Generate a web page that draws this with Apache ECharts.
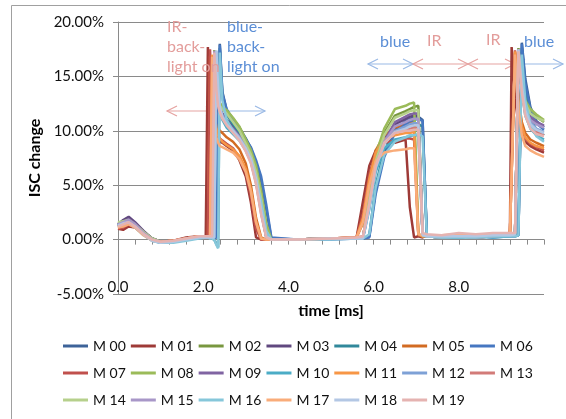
<!DOCTYPE html>
<html><head><meta charset="utf-8">
<script src="https://cdn.jsdelivr.net/npm/echarts@6/dist/echarts.min.js"></script>
<style>html,body{margin:0;padding:0;background:#fff}#c{width:566px;height:419px}</style>
</head><body><div id="c"></div>
<script>
// time axis (ms), shared by all series
const times = [
  0, 0.12, 0.25, 0.4, 0.6, 0.8, 1.0, 1.3, 1.6, 1.9,
  2.06, 2.11, 2.16, 2.21, 2.26, 2.31, 2.35, 2.39, 2.45, 2.55, 2.7, 2.85, 3.0, 3.12, 3.24, 3.36, 3.48, 3.6,
  4.2, 5.0, 5.6,
  5.75, 5.9, 6.05, 6.25, 6.5, 6.75, 6.85, 6.95, 7.05, 7.15, 7.25,
  7.6, 8.0, 8.4, 8.8, 9.2,
  9.24, 9.32, 9.4, 9.48, 9.56, 9.68, 9.82, 10.0
];
// ISC change (%) per module
const M00 = [1.3,1.6,1.8,1.4,0.7,0.1,-0.2,-0.2,0.1,0.2,
  0.3,0.3,0.3,0.3,0.2,0.2,0.3,18.0,13.6,11.9,11.1,10.3,9.3,8.4,7.1,5.4,2.8,0.1,
  0.0,0.1,0.1,
  0.1,0.3,4.6,8.0,10.1,10.9,11.1,11.2,11.3,11.0,0.4,
  0.2,0.3,0.2,0.3,0.4,
  0.4,0.4,0.5,18.1,14.8,12.2,10.9,10.3];
const M01 = [1.0,0.9,1.2,1.1,0.5,0.0,-0.2,-0.1,0.2,0.3,
  0.3,17.7,12.0,10.4,9.8,9.4,9.2,9.0,8.9,8.6,8.2,7.3,5.8,3.4,0.2,0.0,0.0,0.0,
  0.0,0.1,0.2,
  3.5,6.8,8.2,8.9,8.9,9.2,3.0,0.2,0.3,0.2,0.4,
  0.3,0.4,0.3,0.5,0.6,
  17.7,13.0,10.6,9.4,9.0,8.6,8.3,8.0];
const M02 = [1.5,1.6,1.7,1.4,0.7,0.1,-0.2,-0.2,0.0,0.2,
  0.3,0.3,0.3,0.3,17.3,14.4,13.0,12.5,12.2,11.8,11.0,10.3,9.0,8.0,6.5,4.2,1.0,0.0,
  0.0,0.1,0.1,
  0.2,3.6,7.4,9.8,11.4,11.8,12.0,12.2,12.3,0.4,0.3,
  0.2,0.3,0.2,0.3,0.4,
  0.4,0.5,17.6,14.5,12.6,11.8,11.3,10.8];
const M03 = [1.4,1.8,2.1,1.6,0.8,0.1,-0.2,-0.2,0.1,0.2,
  0.3,0.3,0.3,0.3,17.4,14.5,13.0,12.2,11.6,11.0,10.4,9.7,8.7,7.7,6.0,3.2,0.4,0.0,
  0.0,0.1,0.1,
  0.2,3.4,7.0,9.2,10.6,11.1,11.3,11.4,11.4,0.4,0.3,
  0.2,0.3,0.2,0.3,0.4,
  0.4,0.5,17.5,14.0,12.2,11.2,10.7,10.4];
const M04 = [1.3,1.5,1.7,1.3,0.6,0.0,-0.3,-0.2,0.0,0.2,
  0.2,0.2,0.2,0.1,0.0,-0.4,-0.7,17.6,13.2,11.5,10.6,9.8,8.8,7.8,6.2,4.0,1.2,0.0,
  0.0,0.1,0.1,
  0.1,0.4,5.0,8.2,9.8,10.3,10.5,10.6,10.6,10.4,0.3,
  0.2,0.2,0.3,0.3,0.3,
  0.3,0.3,0.4,17.6,13.8,11.2,10.1,9.6];
const M05 = [1.2,1.3,1.5,1.2,0.5,0.0,-0.2,-0.1,0.1,0.3,
  0.3,0.3,16.9,12.5,11.0,10.5,10.2,10.0,9.8,9.4,9.0,8.3,7.0,5.0,2.0,0.2,0.0,0.0,
  0.0,0.1,0.2,
  1.5,5.5,8.2,9.6,10.3,10.6,10.8,10.9,0.4,0.3,0.3,
  0.3,0.4,0.3,0.4,0.5,
  0.5,17.2,13.0,10.8,9.8,9.2,8.9,8.6];
const M06 = [1.2,1.5,1.7,1.3,0.6,0.0,-0.3,-0.2,0.0,0.2,
  0.2,0.2,0.2,0.2,0.2,0.2,0.2,17.9,13.4,12.0,11.0,10.1,9.2,8.5,7.3,5.8,3.2,0.2,
  0.0,0.0,0.1,
  0.1,0.2,4.2,7.6,9.8,10.6,10.9,11.0,11.1,10.9,0.3,
  0.2,0.2,0.3,0.2,0.3,
  0.3,0.3,0.4,18.0,14.4,12.0,10.7,10.1];
const M07 = [1.0,1.1,1.4,1.2,0.5,0.0,-0.2,-0.1,0.1,0.3,
  0.3,0.3,17.5,12.2,10.4,9.8,9.5,9.3,9.1,8.8,8.4,7.6,6.2,4.0,1.0,0.0,0.0,0.0,
  0.0,0.1,0.2,
  2.4,6.0,8.0,8.9,9.1,9.3,9.3,9.2,0.4,0.3,0.3,
  0.3,0.4,0.3,0.4,0.5,
  0.5,17.4,12.6,10.2,9.3,8.8,8.5,8.2];
const M08 = [1.5,1.6,1.8,1.4,0.7,0.1,-0.2,-0.2,0.0,0.2,
  0.3,0.3,0.3,0.3,17.4,14.6,13.2,12.6,12.2,11.9,11.2,10.4,9.2,8.2,6.8,4.5,1.5,0.0,
  0.0,0.1,0.1,
  0.2,3.8,7.8,10.2,12.0,12.3,12.5,12.6,0.5,0.3,0.3,
  0.2,0.3,0.2,0.3,0.4,
  0.4,0.5,17.4,14.8,12.8,12.0,11.5,11.0];
const M09 = [1.4,1.6,1.9,1.5,0.7,0.1,-0.2,-0.2,0.1,0.2,
  0.3,0.3,0.3,0.3,17.2,14.2,12.8,12.0,11.5,10.9,10.2,9.5,8.5,7.4,5.6,2.8,0.3,0.0,
  0.0,0.1,0.1,
  0.2,3.2,6.8,9.0,10.8,11.3,11.5,11.6,11.6,0.4,0.3,
  0.2,0.3,0.3,0.3,0.4,
  0.4,0.5,17.3,14.2,12.3,11.3,10.8,10.5];
const M10 = [1.2,1.4,1.6,1.2,0.5,-0.1,-0.3,-0.2,0.0,0.2,
  0.2,0.2,0.2,0.2,0.2,17.1,13.6,12.0,11.0,10.3,9.7,9.1,8.2,7.2,5.4,2.6,0.2,0.0,
  0.0,0.1,0.1,
  0.1,2.8,6.2,8.4,9.2,9.4,9.5,9.6,9.6,0.4,0.3,
  0.2,0.2,0.3,0.2,0.3,
  0.3,0.4,17.2,13.6,11.4,10.2,9.6,9.2];
const M11 = [1.1,1.3,1.5,1.2,0.5,0.0,-0.2,-0.1,0.1,0.3,
  0.3,0.3,0.3,17.0,11.8,10.2,9.6,9.3,9.0,8.7,8.3,7.7,6.5,4.6,1.6,0.1,0.0,0.0,
  0.0,0.1,0.2,
  2.0,5.6,8.0,9.2,9.6,9.8,9.8,9.9,0.5,0.3,0.3,
  0.3,0.4,0.3,0.4,0.5,
  0.5,17.3,12.8,10.4,9.4,8.9,8.6,8.4];
const M12 = [1.3,1.5,1.7,1.3,0.6,0.0,-0.2,-0.2,0.0,0.2,
  0.2,0.2,0.2,0.2,0.2,17.3,13.8,12.3,11.4,10.7,10.1,9.4,8.5,7.5,5.8,3.0,0.4,0.0,
  0.0,0.1,0.1,
  0.1,3.0,6.6,8.8,10.0,10.4,10.6,10.7,10.7,0.4,0.3,
  0.2,0.3,0.2,0.3,0.4,
  0.4,0.4,17.4,14.0,12.0,10.8,10.2,9.9];
const M13 = [1.2,1.4,1.6,1.2,0.5,0.0,-0.2,-0.1,0.1,0.3,
  0.3,0.3,0.3,0.3,17.3,13.8,12.4,11.8,11.2,10.6,9.9,9.2,8.2,7.1,5.2,2.4,0.2,0.0,
  0.0,0.1,0.2,
  0.3,3.4,6.9,9.0,9.9,10.1,10.2,10.3,10.3,0.5,0.4,
  0.3,0.4,0.4,0.5,0.5,
  0.5,0.6,17.5,13.6,11.6,10.4,9.9,9.6];
const M14 = [1.6,1.7,1.8,1.4,0.7,0.1,-0.2,-0.2,0.0,0.2,
  0.3,0.3,0.3,0.3,17.2,14.3,12.9,12.3,12.0,11.6,10.8,10.0,8.8,7.8,6.2,3.8,0.8,0.0,
  0.0,0.1,0.1,
  0.2,3.6,7.2,9.6,11.2,11.6,11.8,11.9,11.9,0.4,0.3,
  0.2,0.3,0.3,0.3,0.4,
  0.4,0.5,17.3,14.6,12.5,11.6,11.2,10.9];
const M15 = [1.4,1.6,1.8,1.4,0.6,0.0,-0.2,-0.2,0.0,0.2,
  0.3,0.3,0.3,0.3,17.3,14.0,12.6,11.9,11.3,10.8,10.1,9.4,8.4,7.3,5.5,2.7,0.3,0.0,
  0.0,0.1,0.1,
  0.2,3.2,6.8,9.0,10.4,10.8,11.0,11.1,11.1,0.4,0.3,
  0.2,0.3,0.2,0.3,0.4,
  0.4,0.5,17.4,14.0,12.0,11.0,10.6,10.3];
const M16 = [1.2,1.4,1.5,1.1,0.4,-0.1,-0.3,-0.3,-0.1,0.1,
  0.2,0.2,0.1,0.1,0.0,-0.5,-0.8,17.2,12.8,11.0,10.0,9.2,8.3,7.3,5.6,3.4,0.8,0.0,
  0.0,0.0,0.1,
  0.1,0.5,4.8,7.8,9.0,9.4,9.6,9.6,9.7,9.5,0.3,
  0.2,0.2,0.2,0.3,0.3,
  0.3,0.3,0.4,17.0,12.8,10.6,9.5,9.0];
const M17 = [1.1,1.2,1.4,1.1,0.4,-0.1,-0.2,-0.1,0.1,0.3,
  0.3,0.3,0.3,16.8,11.0,9.4,8.9,8.6,8.5,8.3,8.0,7.4,6.2,4.4,1.6,0.1,0.0,0.0,
  0.0,0.1,0.2,
  1.6,5.0,7.2,8.0,8.2,8.3,8.4,8.4,0.5,0.4,0.4,
  0.4,0.5,0.4,0.5,0.6,
  0.6,17.0,12.0,9.6,8.6,8.2,7.9,7.6];
const M18 = [1.3,1.5,1.6,1.2,0.5,-0.1,-0.3,-0.2,0.0,0.2,
  0.2,0.2,0.2,0.2,0.2,17.4,13.9,12.2,11.3,10.6,10.0,9.3,8.4,7.4,5.6,2.8,0.3,0.0,
  0.0,0.1,0.1,
  0.1,3.0,6.6,8.8,9.9,10.2,10.4,10.5,10.5,0.4,0.3,
  0.3,0.3,0.3,0.4,0.4,
  0.4,0.5,17.5,14.2,11.9,10.6,10.1,9.8];
const M19 = [1.2,1.4,1.6,1.2,0.5,0.0,-0.2,-0.1,0.1,0.3,
  0.3,0.3,0.3,0.3,17.2,13.7,12.3,11.7,11.1,10.5,9.8,9.1,8.1,7.0,5.1,2.3,0.2,0.0,
  0.0,0.1,0.2,
  0.3,3.3,6.8,8.9,9.8,10.0,10.0,10.1,10.1,0.6,0.5,
  0.4,0.6,0.5,0.6,0.6,
  0.6,0.6,17.3,13.5,11.4,10.2,9.7,9.5];

const seriesNames = ['M 00','M 01','M 02','M 03','M 04','M 05','M 06','M 07','M 08','M 09',
  'M 10','M 11','M 12','M 13','M 14','M 15','M 16','M 17','M 18','M 19'];
const seriesValues = [M00,M01,M02,M03,M04,M05,M06,M07,M08,M09,M10,M11,M12,M13,M14,M15,M16,M17,M18,M19];
const seriesColors = ['#3D6399','#9E3A37','#78973F','#60487F','#31889B','#D26B22','#4677C1',
  '#C0504D','#9BBB59','#8064A2','#4BACC6','#F79646','#7EA1D6','#D27B78',
  '#B6D08C','#A897C8','#86C7DA','#F9AC7A','#B3C7E4','#E5B3B1'];
const legendRows = [seriesNames.slice(0,7), seriesNames.slice(7,14), seriesNames.slice(14,20)];

const FONT = 'Lato, "Liberation Sans", sans-serif';
const GRID = '#8a8a8a';
const PINK = '#E39D9B', BLUE = '#5B8ED6', PINK_A = '#E6A3A1', BLUE_A = '#9AB9E5';

function arrow(x1, x2, y, color) {
  const s = {stroke: color, lineWidth: 1.2, fill: null};
  return [
    {type:'polyline', shape:{points:[[x1,y],[x2,y]]}, style:s, silent:true},
    {type:'polyline', shape:{points:[[x1+10,y-5],[x1,y],[x1+10,y+5]]}, style:s, silent:true},
    {type:'polyline', shape:{points:[[x2-10,y-5],[x2,y],[x2-10,y+5]]}, style:s, silent:true}
  ];
}
function label(text, x, y, color, va) {
  return {type:'text', x:x, y:y, silent:true, z:10,
    style:{text:text, fill:color, font:'16px ' + FONT, lineHeight:20, verticalAlign: va || 'top', align:'left'}};
}

const chart = echarts.init(document.getElementById('c'), null, {renderer:'canvas'});
chart.setOption({
  animation: false,
  backgroundColor: '#fff',
  grid: {left:118, right:22, top:22, bottom:125, containLabel:false},
  xAxis: [
    {type:'value', min:0, max:10, interval:2, position:'bottom',
     axisLine:{show:false, onZero:false}, axisTick:{show:false}, splitLine:{show:false},
     axisLabel:{inside:true, margin:-1, showMaxLabel:false, formatter:v=>v.toFixed(1),
       fontFamily:FONT, fontSize:15, color:'#111'},
     name:'time [ms]', nameLocation:'middle', nameGap:9,
     nameTextStyle:{fontFamily:FONT, fontWeight:'bold', fontSize:16, color:'#000', verticalAlign:'top'}},
    {type:'value', min:0, max:10, interval:0.4, position:'bottom',
     axisLine:{show:true, onZero:true, onZeroAxisIndex:0, lineStyle:{color:GRID}},
     axisTick:{show:true, length:5, inside:false, lineStyle:{color:GRID}},
     axisLabel:{show:false}, splitLine:{show:false}}
  ],
  yAxis: {type:'value', min:-5, max:20, interval:5,
    axisLine:{show:true, onZero:false, lineStyle:{color:GRID}},
    axisTick:{show:true, length:5, lineStyle:{color:GRID}},
    splitLine:{show:true, lineStyle:{color:GRID}},
    axisLabel:{margin:14, formatter:v=>v.toFixed(2)+'%', fontFamily:FONT, fontSize:15, color:'#111'},
    name:'ISC change', nameLocation:'middle', nameGap:66, nameRotate:90,
    nameTextStyle:{fontFamily:FONT, fontWeight:'bold', fontSize:16, color:'#000'}},
  legend: legendRows.map((row, r) => ({
    data: row, left:63, top:[339,366,393][r], orient:'horizontal', padding:0,
    icon:'rect', itemWidth:25, itemHeight:3, itemGap:5,
    textStyle:{fontFamily:FONT, fontSize:14, color:'#111', width:30}
  })),
  graphic: [
    {type:'rect', shape:{x:11.5, y:5.5, width:620, height:520}, style:{fill:null, stroke:'#a0a0a0', lineWidth:1}, silent:true, z:-1},
    ...arrow(167, 216, 111, PINK_A),
    ...arrow(216, 265, 111, BLUE_A),
    ...arrow(368, 413, 64, BLUE_A),
    ...arrow(413, 468, 64, PINK_A),
    ...arrow(468, 515, 64, PINK_A),
    ...arrow(515, 563, 64, BLUE_A),
    label('IR-\nback-\nlight on', 167, 17, PINK),
    label('blue-\nback-\nlight on', 227, 17, BLUE),
    label('blue', 380, 42, BLUE, 'middle'),
    label('IR', 427, 41, PINK, 'middle'),
    label('IR', 486, 40, PINK, 'middle'),
    label('blue', 524, 42, BLUE, 'middle')
  ],
  series: seriesNames.map((n, i) => ({
    name:n, type:'line', xAxisIndex:0, yAxisIndex:0,
    data: times.map((t, k) => [t, seriesValues[i][k]]),
    symbol:'none', showSymbol:false,
    lineStyle:{width:2.5, color:seriesColors[i]}, itemStyle:{color:seriesColors[i]},
    emphasis:{disabled:true}
  }))
});
</script>
</body></html>
